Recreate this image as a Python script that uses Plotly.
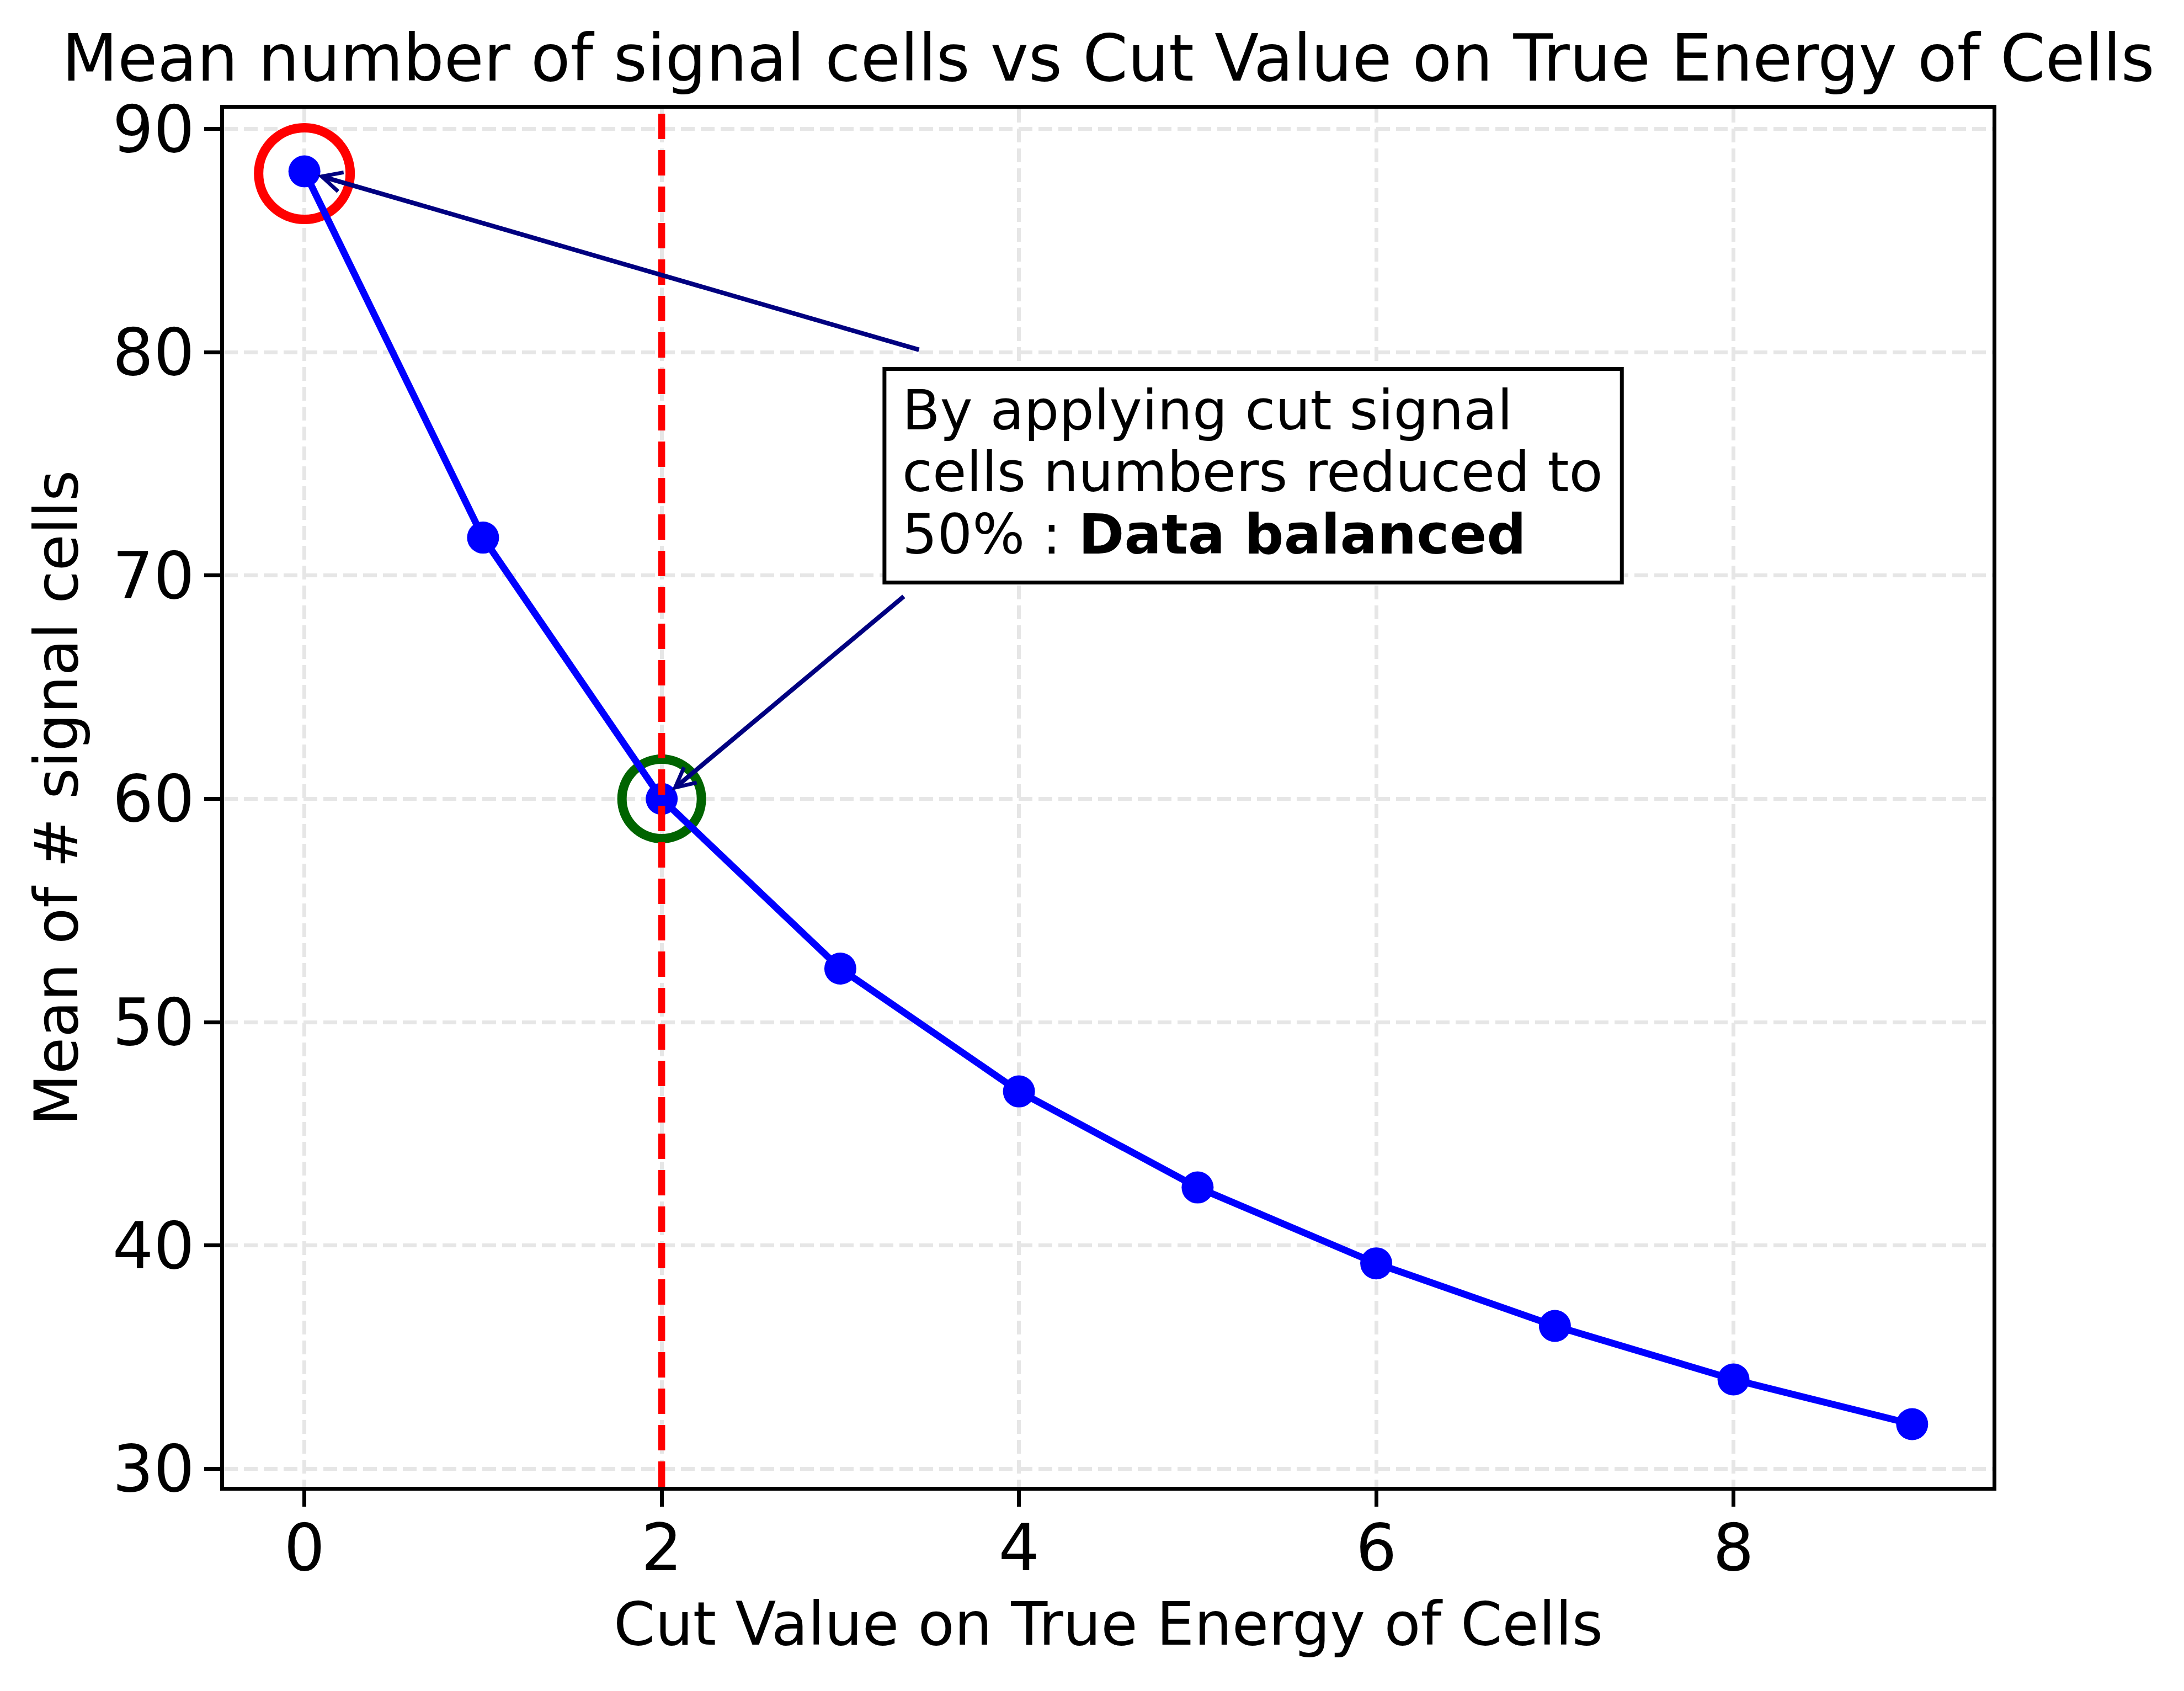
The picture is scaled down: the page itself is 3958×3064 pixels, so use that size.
import plotly.graph_objects as go

# ---- data ----
cut_values = [0, 1, 2, 3, 4, 5, 6, 7, 8, 9]
mean_signal_cells = [88.1, 71.7, 60.0, 52.4, 46.9, 42.6, 39.2, 36.4, 34.0, 32.0]
x_tick_vals = [0, 2, 4, 6, 8]
x_tick_text = ["0", "2", "4", "6", "8"]
y_tick_vals = [30, 40, 50, 60, 70, 80, 90]
y_tick_text = ["30", "40", "50", "60", "70", "80", "90"]
start_circle_x = [0]
start_circle_y = [88]
balanced_circle_x = [2]
balanced_circle_y = [60]
cut_line_x = 2
arrow1_tail = (3.445, 80.1)
arrow2_tail = (3.36, 69.1)
box_x = (3.247, 7.375)
box_y = (69.69, 79.25)
text_x = 3.34
text_lines_y = [77.39, 74.62, 71.85]
text_lines = ["By applying cut signal",
              "cells numbers reduced to",
              "50% : <b>Data balanced</b>"]

FONT = "DejaVu Sans"
PAGE_OFFSET = 8  # default body margin of the html page
W, H = 3958 - 2 * PAGE_OFFSET, 3064 - 2 * PAGE_OFFSET
L, R, T, B = 406 - PAGE_OFFSET, 347 - PAGE_OFFSET, 197 - PAGE_OFFSET, 370 - PAGE_OFFSET

fig = go.Figure()

fig.add_trace(go.Scatter(
    x=start_circle_x, y=start_circle_y, mode="markers",
    marker=dict(symbol="circle-open", size=166, color="red",
                line=dict(width=17, color="red")),
    showlegend=False, hoverinfo="skip"))
fig.add_trace(go.Scatter(
    x=balanced_circle_x, y=balanced_circle_y, mode="markers",
    marker=dict(symbol="circle-open", size=144, color="darkgreen",
                line=dict(width=17, color="darkgreen")),
    showlegend=False, hoverinfo="skip"))
fig.add_trace(go.Scatter(
    x=cut_values, y=mean_signal_cells, mode="lines+markers",
    line=dict(color="blue", width=12.5),
    marker=dict(color="blue", size=58, line=dict(width=0)),
    showlegend=False))

fig.add_shape(type="line", xref="x", yref="paper", x0=cut_line_x, x1=cut_line_x,
              y0=0, y1=1, layer="above",
              line=dict(color="red", width=12.5, dash="46px,20px"))

fig.add_shape(type="rect", xref="x", yref="y", x0=box_x[0], x1=box_x[1],
              y0=box_y[0], y1=box_y[1], layer="above",
              fillcolor="white", line=dict(color="black", width=7))

annotations = []
for ty, txt in zip(text_lines_y, text_lines):
    annotations.append(dict(
        x=text_x, y=ty, xref="x", yref="y", text=txt, showarrow=False,
        xanchor="left", yanchor="middle", align="left",
        font=dict(family=FONT, size=100, color="black")))

annotations.append(dict(
    x=cut_values[0], y=mean_signal_cells[0], xref="x", yref="y",
    ax=arrow1_tail[0], ay=arrow1_tail[1], axref="x", ayref="y",
    text="", showarrow=True, arrowhead=5, arrowsize=0.85, arrowwidth=8.3,
    arrowcolor="navy", standoff=25))
annotations.append(dict(
    x=cut_values[2], y=mean_signal_cells[2], xref="x", yref="y",
    ax=arrow2_tail[0], ay=arrow2_tail[1], axref="x", ayref="y",
    text="", showarrow=True, arrowhead=5, arrowsize=0.85, arrowwidth=8.3,
    arrowcolor="navy", standoff=24))

annotations.append(dict(
    x=0.5, y=0, xref="paper", yref="paper", yshift=-248.5,
    text="Cut Value on True Energy of Cells", showarrow=False,
    xanchor="center", yanchor="middle",
    font=dict(family=FONT, size=108, color="black")))
annotations.append(dict(
    x=0, y=0.5, xref="paper", yref="paper", xshift=-304,
    text="Mean of # signal cells", showarrow=False, textangle=-90,
    xanchor="center", yanchor="middle",
    font=dict(family=FONT, size=108, color="black")))

axis_common = dict(
    showline=True, linecolor="black", linewidth=6.7, mirror=True,
    ticks="outside", ticklen=29, tickwidth=6.7, tickcolor="black",
    tickfont=dict(family=FONT, size=117, color="black"),
    showgrid=True, gridcolor="#e6e6e6", gridwidth=6.7, griddash="25px,11px",
    zeroline=False, automargin=False,
)

fig.update_layout(
    width=W, height=H,
    margin=dict(l=L, r=R, t=T, b=B, autoexpand=False),
    paper_bgcolor="white", plot_bgcolor="white",
    template="none",
    title=dict(text="Mean number of signal cells vs Cut Value on True Energy of Cells",
               x=0.5, xref="paper", xanchor="center",
               y=1 - (105 - PAGE_OFFSET) / H, yref="container", yanchor="middle",
               font=dict(family=FONT, size=117, color="black")),
    xaxis=dict(range=[-0.45, 9.45], tickmode="array", tickvals=x_tick_vals,
               ticktext=x_tick_text, ticklabelstandoff=-25, **axis_common),
    yaxis=dict(range=[29.195, 90.905], tickmode="array", tickvals=y_tick_vals,
               ticktext=y_tick_text, ticklabelstandoff=-6, **axis_common),
    annotations=annotations,
)

fig.write_html("out.html")
